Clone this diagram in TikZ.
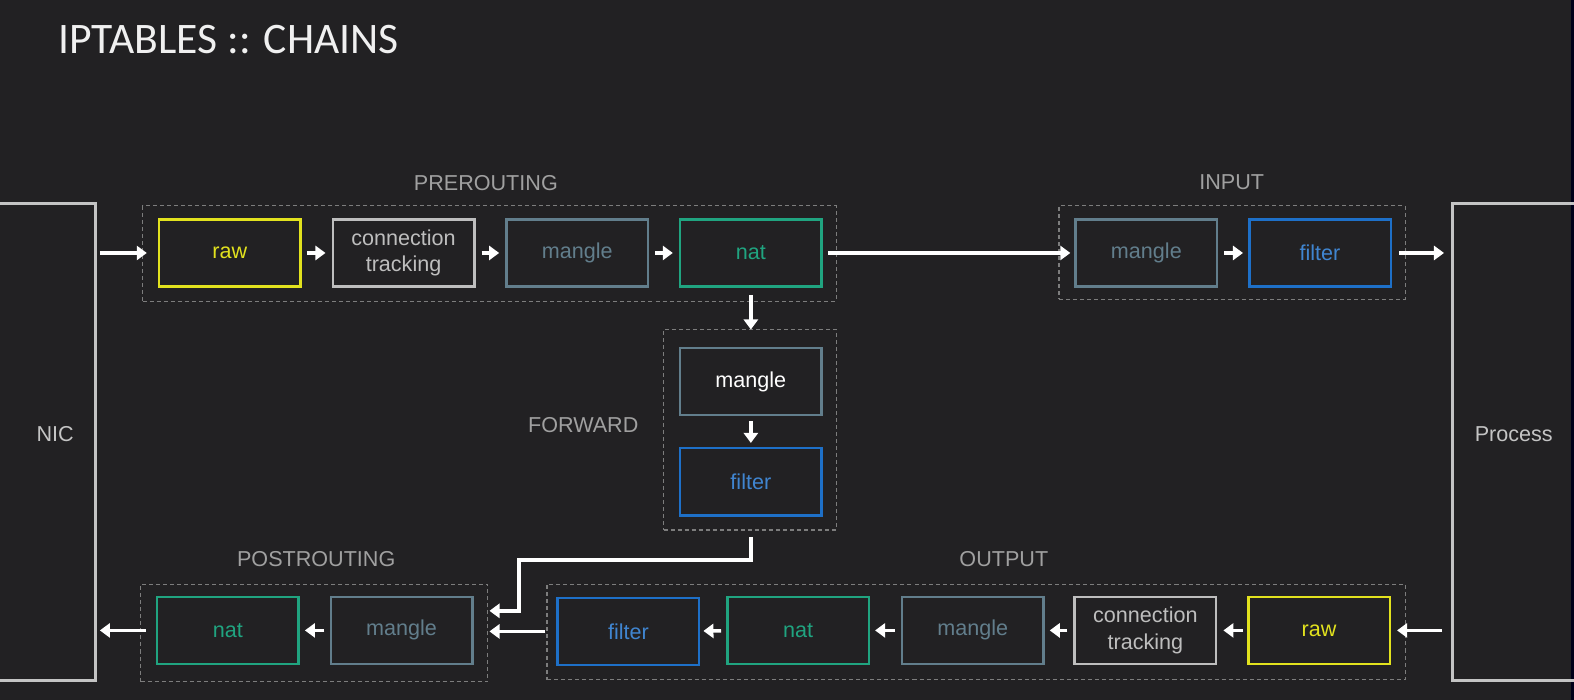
\documentclass[tikz,border=0pt]{standalone}
\usepackage{fontspec}
\setmainfont{Liberation Sans}
\newfontfamily\titlefont{Carlito}
\usetikzlibrary{arrows.meta}
\definecolor{bg}{RGB}{34,33,35}
\definecolor{cyel}{RGB}{226,226,30}
\definecolor{cgray}{RGB}{190,190,190}
\definecolor{cslate}{RGB}{98,126,140}
\definecolor{cteal}{RGB}{32,164,128}
\definecolor{cblue}{RGB}{30,112,200}
\definecolor{cdash}{RGB}{125,125,125}
\definecolor{clab}{RGB}{160,160,160}
\definecolor{cside}{RGB}{196,196,196}
\tikzset{
  tbl/.style={draw, line width=2.5pt, minimum width=141pt, minimum height=67pt,
    inner sep=0pt, font=\fontsize{21.5}{26}\selectfont, align=center},
  rawbox/.style={tbl, draw=cyel, text=cyel},
  ctbox/.style={tbl, draw=cgray, text=cgray},
  manglebox/.style={tbl, draw=cslate, text=cslate},
  natbox/.style={tbl, draw=cteal, text=cteal},
  filterbox/.style={tbl, draw=cblue, text=cblue!85!white},
  grp/.style={draw=cdash, line width=1.2pt, dash pattern=on 4pt off 3pt, inner sep=0pt},
  grplabel/.style={text=clab, font=\fontsize{21.5}{26}\selectfont, inner sep=0pt},
  sidebox/.style={draw=cside, line width=3pt, inner sep=0pt},
  arr/.style={draw=white, line width=3.6pt, -{Triangle[length=10pt,width=14pt]}},
}
\begin{document}
\begin{tikzpicture}[x=1pt,y=-1pt]
\useasboundingbox (0,0) rectangle (1568,697);
\clip (0,0) rectangle (1568,697);
\fill[bg] (0,0) rectangle (1568,697);
\fill[black!90!blue] (1565,0) rectangle (1568,697);

% title
\node[anchor=base west, inner sep=0pt, text=white!94!black, font=\titlefont\fontsize{43.4}{50}\selectfont] (title) at (58,53) {IPTABLES :: CHAINS};

% side boxes
\node[sidebox, minimum width=140pt, minimum height=475pt] (nic) at (25,440.5) {};
\node[text=cside, font=\fontsize{21.5}{26}\selectfont, inner sep=0pt] (nictext) at (55,432) {NIC};
\node[sidebox, minimum width=160pt, minimum height=475pt] (proc) at (1527,440.5) {};
\node[text=cside, font=\fontsize{21.5}{26}\selectfont, inner sep=0pt] (proctext) at (1508,433) {Process};

% groups
\node[grp, minimum width=691pt, minimum height=95pt] (pregrp) at (487.5,252.5) {};
\node[grp, minimum width=345pt, minimum height=93pt] (ingrp) at (1227.5,251.5) {};
\node[grp, minimum width=172pt, minimum height=200pt] (fwdgrp) at (747,428) {};
\node[grp, minimum width=346pt, minimum height=97pt] (postgrp) at (313,630.5) {};
\node[grp, minimum width=855pt, minimum height=95pt] (outgrp) at (972.5,629.5) {};

\node[grplabel] (prelab) at (484,182) {PREROUTING};
\node[grplabel] (inlab) at (1227,181) {INPUT};
\node[grplabel] (fwdlab) at (581,423) {FORWARD};
\node[grplabel] (postlab) at (315,557) {POSTROUTING};
\node[grplabel] (outlab) at (1000,557) {OUTPUT};

% prerouting
\node[rawbox] (praw) at (229,252) {raw};
\node[ctbox] (pct) at (402,252) {connection\\tracking};
\node[manglebox] (pmangle) at (575,252) {mangle};
\node[natbox] (pnat) at (748,252) {nat};
% input
\node[manglebox] (imangle) at (1142,252) {mangle};
\node[filterbox] (ifilter) at (1315,252) {filter};
% forward
\node[manglebox, text=white] (fmangle) at (748,380) {mangle};
\node[filterbox] (ffilter) at (748,480) {filter};
% postrouting
\node[natbox] (qnat) at (227,628) {nat};
\node[manglebox] (qmangle) at (400,628) {mangle};
% output
\node[filterbox] (ofilter) at (626,629) {filter};
\node[natbox] (onat) at (795,628) {nat};
\node[manglebox] (omangle) at (969,628) {mangle};
\node[ctbox] (oct) at (1141,628) {connection\\tracking};
\node[rawbox] (oraw) at (1314,628) {raw};

% arrows top
\draw[arr, shorten <=3pt, shorten >=11pt] (nic.east |- praw) -- (praw.west);
\draw[arr, shorten <=5pt, shorten >=6pt] (praw) -- (pct);
\draw[arr, shorten <=6pt, shorten >=6pt] (pct) -- (pmangle);
\draw[arr, shorten <=6pt, shorten >=6pt] (pmangle) -- (pnat);
\draw[arr, shorten <=5pt, shorten >=4pt] (pnat.east) -- (imangle.west |- pnat.east);
\draw[arr, shorten <=6pt, shorten >=5pt] (imangle) -- (ifilter);
\draw[arr, shorten <=7pt, shorten >=7pt] (ifilter.east) -- (proc.west |- ifilter.east);
% forward
\draw[arr, shorten <=7pt, shorten >=17pt] (pnat.south) -- (fmangle.north);
\draw[arr, shorten <=5pt, shorten >=4pt] (fmangle) -- (ffilter);
\coordinate (fwdbend) at (517,558);
\coordinate (postin) at ([yshift=22pt]postgrp.east);
\draw[arr, line join=miter, shorten <=20pt, shorten >=1pt] (ffilter.south) -- (ffilter.south |- fwdbend) -- (fwdbend) -- (fwdbend |- postin) -- (postin);
% bottom
\draw[arr, shorten <=9pt, shorten >=6pt] (proc.west |- oraw.east) -- (oraw.east);
\draw[arr, shorten <=4pt, shorten >=6pt] (oraw) -- (oct);
\draw[arr, shorten <=6pt, shorten >=5pt] (oct) -- (omangle);
\draw[arr, shorten <=6pt, shorten >=5pt] (omangle) -- (onat);
\draw[arr, shorten <=5pt, shorten >=3pt] (onat) -- (ofilter);
\draw[arr, shorten <=11pt, shorten >=1pt] (ofilter.west) -- (postgrp.east |- ofilter.west);
\draw[arr, shorten <=5pt, shorten >=5pt] (qmangle) -- (qnat);
\draw[arr, shorten <=10pt, shorten >=3pt] (qnat.west) -- (nic.east |- qnat.west);
\end{tikzpicture}
\end{document}
